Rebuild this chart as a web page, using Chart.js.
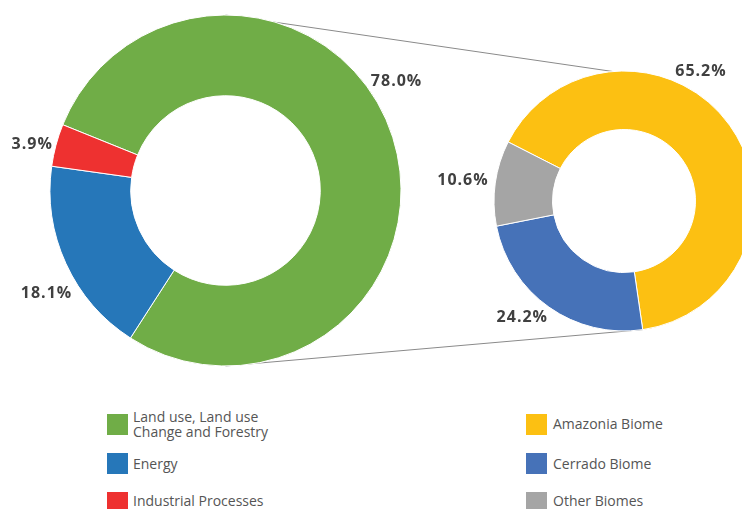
<!DOCTYPE html>
<html>
<head>
<meta charset="utf-8">
<script src="https://cdn.jsdelivr.net/npm/chart.js@4.4.1/dist/chart.umd.min.js"></script>
<style>
    html, body { margin: 0; padding: 0; background: #fff; }
    body { width: 742px; height: 509px; overflow: hidden; position: relative; font-family: "Open Sans", sans-serif; }
    canvas { position: absolute; left: 0; top: 0; }
    #rightPie { z-index: 1; }
    #leftPie { z-index: 2; }
    .key { position: absolute; width: 21px; height: 21px; }
    .key-text { position: absolute; font-size: 14px; line-height: 15.5px; color: #555; white-space: nowrap; }
</style>
</head>
<body>
<canvas id="rightPie" width="800" height="509"></canvas>
<canvas id="leftPie" width="742" height="509"></canvas>
<div id="legend"></div>

<script>
// emissions by sector
var sectorLabels = ['Land use, Land use\nChange and Forestry', 'Energy', 'Industrial Processes'];
var sectorValues = [78.0, 18.1, 3.9];
var sectorColors = ['#70AD47', '#2677B9', '#EE3130'];

// land use emissions by biome
var biomeLabels = ['Amazonia Biome', 'Cerrado Biome', 'Other Biomes'];
var biomeValues = [65.2, 24.2, 10.6];
var biomeColors = ['#FCC012', '#4672B8', '#A5A5A5'];

// where each percentage sits around its ring (degrees nudged off the slice middle, px out from the rim)
var sectorLabelShift = [-15.2, -5, -1.2];
var sectorLabelGap = [27.4, 31, 24];
var biomeLabelShift = [-24.1, 6.3, -0.3];
var biomeLabelGap = [21.7, 24, 33];

var percentLabels = {
    id: 'percentLabels',
    afterDatasetsDraw: function(chart, args, opts){
        var ctx = chart.ctx;
        var arcs = chart.getDatasetMeta(0).data;
        var values = chart.data.datasets[0].data;
        ctx.save();
        ctx.font = 'bold 16px "Open Sans"';
        ctx.letterSpacing = '1px';
        ctx.fillStyle = '#404040';
        ctx.textAlign = 'center';
        ctx.textBaseline = 'alphabetic';
        for (var i = 0; i < arcs.length; i++) {
            var a = arcs[i];
            var mid = (a.startAngle + a.endAngle) / 2 + opts.shift[i] * Math.PI / 180;
            var r = a.outerRadius + opts.gap[i];
            var x = a.x + Math.cos(mid) * r;
            var y = a.y + Math.sin(mid) * r;
            ctx.fillText(values[i].toFixed(1) + '%', x + 0.5, y + 5.7);
        }
        ctx.restore();
    }
};

// thin lines joining the big ring to the biome breakdown
var linkLines = {
    id: 'linkLines',
    beforeDatasetsDraw: function(chart, args, opts){
        var src = opts.source.getDatasetMeta(0).data[0];
        var dst = chart.getDatasetMeta(0).data[0];
        var topA = -Math.PI / 2 - 5 * Math.PI / 180;
        var botA = dst.endAngle;
        var ctx = chart.ctx;
        ctx.save();
        ctx.strokeStyle = '#8a8a8a';
        ctx.lineWidth = 1;
        ctx.beginPath();
        ctx.moveTo(src.x, src.y - src.outerRadius);
        ctx.lineTo(dst.x + Math.cos(topA) * dst.outerRadius, dst.y + Math.sin(topA) * dst.outerRadius);
        ctx.moveTo(src.x, src.y + src.outerRadius);
        ctx.lineTo(dst.x + Math.cos(botA) * dst.outerRadius, dst.y + Math.sin(botA) * dst.outerRadius);
        ctx.stroke();
        ctx.restore();
    }
};

function ringOptions(padding, cutout, rotation, shift, gap){
    return {
        responsive: false,
        animation: false,
        rotation: rotation,
        cutout: cutout,
        layout: { padding: padding },
        plugins: {
            legend: { display: false },
            tooltip: { enabled: false },
            percentLabels: { shift: shift, gap: gap }
        }
    };
}

var sectorChart = new Chart(document.getElementById('leftPie'), {
    type: 'doughnut',
    data: {
        labels: sectorLabels,
        datasets: [{
            data: sectorValues,
            backgroundColor: sectorColors,
            borderColor: '#ffffff',
            borderWidth: 1
        }]
    },
    options: ringOptions({ left: 49.5, top: 14.5, right: 340.5, bottom: 142.5 }, '54%', 292, sectorLabelShift, sectorLabelGap),
    plugins: [percentLabels]
});

var biomeOpts = ringOptions({ left: 493.5, top: 70.5, right: 45.5, bottom: 177.5 }, '55%', 297, biomeLabelShift, biomeLabelGap);
biomeOpts.plugins.linkLines = { source: sectorChart };
var biomeChart = new Chart(document.getElementById('rightPie'), {
    type: 'doughnut',
    data: {
        labels: biomeLabels,
        datasets: [{
            data: biomeValues,
            backgroundColor: biomeColors,
            borderColor: '#ffffff',
            borderWidth: 1
        }]
    },
    options: biomeOpts,
    plugins: [percentLabels, linkLines]
});

// legend: two columns, one per ring
function drawLegend(){
    var html = '';
    var rows = [414, 453, 492];
    var textTops = [408.5, 455.8, 492.8];
    for (var i = 0; i < sectorLabels.length; i++) {
        html += '<div class="key" style="left:107px;top:' + rows[i] + 'px;background:' + sectorColors[i] + '"></div>'
        + '<div class="key-text" style="left:133px;top:' + textTops[i] + 'px">' + sectorLabels[i].replace('\n', '<br>') + '</div>';
    }
    var biomeTops = [415.8, 455.8, 492.8];
    for (var j = 0; j < biomeLabels.length; j++) {
        html += '<div class="key" style="left:526px;top:' + rows[j] + 'px;background:' + biomeColors[j] + '"></div>'
        + '<div class="key-text" style="left:553px;top:' + biomeTops[j] + 'px">' + biomeLabels[j] + '</div>';
    }
    document.getElementById('legend').innerHTML = html;
}
drawLegend();
</script>
</body>
</html>
